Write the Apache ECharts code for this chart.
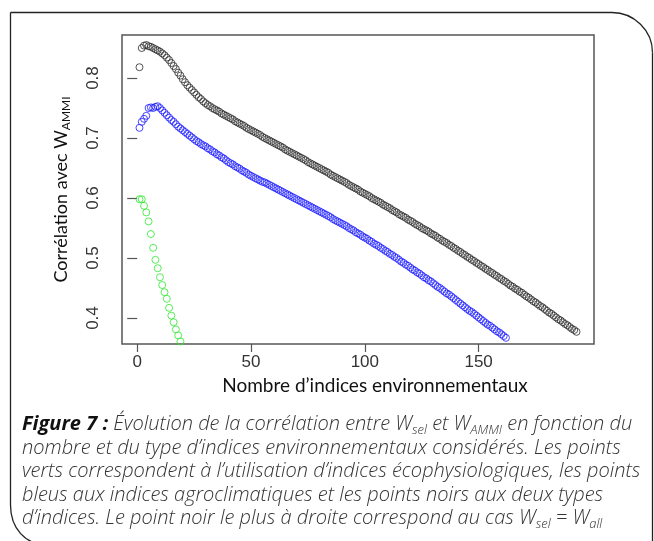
<!DOCTYPE html>
<html><head><meta charset="utf-8">
<script src="https://cdn.jsdelivr.net/npm/echarts@6/dist/echarts.min.js"></script>
<style>html,body{margin:0;padding:0;background:#fff}#c{width:654px;height:541px}</style>
</head><body><div id="c"></div>
<script>
// Both index types (black), x = 1..193
const blackVals = [
0.818,0.850,0.854,0.855,0.853,0.852,0.850,0.848,0.846,0.844,
0.841,0.838,0.834,0.830,0.825,0.820,0.815,0.809,0.804,0.798,
0.793,0.788,0.784,0.780,0.776,0.772,0.768,0.765,0.761,0.758,
0.755,0.753,0.750,0.748,0.746,0.744,0.741,0.739,0.737,0.735,
0.733,0.731,0.728,0.726,0.724,0.722,0.720,0.717,0.715,0.713,
0.711,0.709,0.707,0.705,0.702,0.700,0.698,0.696,0.694,0.692,
0.690,0.688,0.686,0.684,0.681,0.679,0.677,0.675,0.673,0.671,
0.669,0.667,0.665,0.663,0.660,0.658,0.656,0.654,0.652,0.650,
0.648,0.646,0.644,0.642,0.639,0.637,0.635,0.633,0.631,0.629,
0.627,0.625,0.622,0.620,0.618,0.616,0.614,0.611,0.609,0.607,
0.605,0.603,0.600,0.598,0.596,0.594,0.592,0.589,0.587,0.585,
0.583,0.580,0.578,0.576,0.573,0.571,0.569,0.567,0.564,0.562,
0.560,0.557,0.555,0.553,0.550,0.548,0.546,0.544,0.541,0.539,
0.537,0.534,0.532,0.529,0.527,0.525,0.522,0.520,0.517,0.515,
0.512,0.510,0.507,0.505,0.502,0.500,0.497,0.495,0.492,0.490,
0.487,0.485,0.482,0.480,0.477,0.475,0.472,0.470,0.467,0.465,
0.462,0.460,0.457,0.454,0.452,0.449,0.447,0.444,0.442,0.439,
0.436,0.434,0.431,0.428,0.426,0.423,0.420,0.418,0.415,0.412,
0.409,0.407,0.404,0.401,0.398,0.396,0.393,0.390,0.388,0.385,
0.382,0.380,0.377
];
// Agroclimatic indices (blue), x = 1..162
const blueVals = [
0.717,0.727,0.732,0.737,0.750,0.751,0.750,0.752,0.753,0.750,
0.746,0.742,0.738,0.734,0.730,0.727,0.723,0.719,0.716,0.713,
0.710,0.707,0.704,0.701,0.698,0.695,0.693,0.690,0.688,0.686,
0.683,0.681,0.678,0.676,0.673,0.671,0.668,0.666,0.663,0.660,
0.658,0.656,0.653,0.651,0.649,0.646,0.644,0.642,0.639,0.637,
0.635,0.633,0.631,0.629,0.627,0.626,0.624,0.622,0.620,0.618,
0.616,0.614,0.612,0.610,0.608,0.606,0.604,0.602,0.600,0.598,
0.596,0.594,0.592,0.590,0.588,0.586,0.584,0.582,0.580,0.578,
0.576,0.574,0.572,0.570,0.568,0.565,0.563,0.561,0.559,0.557,
0.555,0.553,0.550,0.548,0.546,0.543,0.541,0.539,0.536,0.534,
0.532,0.529,0.527,0.524,0.522,0.520,0.517,0.515,0.512,0.510,
0.507,0.505,0.502,0.500,0.497,0.494,0.492,0.489,0.487,0.484,
0.481,0.479,0.476,0.474,0.471,0.468,0.466,0.463,0.461,0.458,
0.455,0.452,0.450,0.447,0.444,0.441,0.439,0.436,0.433,0.430,
0.427,0.424,0.421,0.418,0.415,0.412,0.410,0.407,0.404,0.401,
0.398,0.395,0.392,0.389,0.387,0.384,0.381,0.378,0.376,0.373,
0.370,0.367
];
// Ecophysiological indices (green), visible points x = 1..20
const greenVals = [
0.598,0.598,0.587,0.576,0.561,0.540,0.517,0.497,0.483,0.468,
0.455,0.443,0.432,0.417,0.404,0.393,0.381,0.371,0.361,0.352
];
const xTicks = [0, 50, 100, 150];
const yTicks = [0.4, 0.5, 0.6, 0.7, 0.8];
const xName = 'Nombre d’indices environnementaux';
const yName = 'Corrélation avec W';
const ySub = 'AMMI';
const captionLines = [
  '{b|Figure 7 :} Évolution de la corrélation entre W{s|sel} et W{s|AMMI} en fonction du',
  'nombre et du type d’indices environnementaux considérés. Les points',
  'verts correspondent à l’utilisation d’indices écophysiologiques, les points',
  'bleus aux indices agroclimatiques et les points noirs aux deux types',
  'd’indices. Le point noir le plus à droite correspond au cas W{s|sel} = W{s|all}'
];

const toPts = arr => arr.map((v, i) => [i + 1, v]);
const capFont = '"Open Sans", "Noto Sans", sans-serif';
const axFont = 'Lato, "Open Sans", sans-serif';
const tickFont = '"Liberation Sans", Arial, sans-serif';

const chart = echarts.init(document.getElementById('c'), null, {renderer: 'canvas'});
const mk = (name, vals, col) => ({
  type: 'scatter', name, data: toPts(vals), symbol: 'circle', symbolSize: 7,
  itemStyle: {color: 'rgba(0,0,0,0)', borderColor: col, borderWidth: 1},
  silent: true, clip: true, emphasis: {disabled: true}
});
const frameStyle = {fill: 'none', stroke: '#222', lineWidth: 1.3};
chart.setOption({
  animation: false,
  backgroundColor: '#fff',
  grid: {left: 122, right: 60, top: 35, bottom: 197, show: true, borderColor: '#555', borderWidth: 1.5},
  xAxis: {
    type: 'value', min: -6.68, max: 200.68,
    axisLine: {show: false}, splitLine: {show: false},
    axisTick: {show: true, length: 8, customValues: xTicks, lineStyle: {color: '#555', width: 1.2}},
    axisLabel: {customValues: xTicks, margin: 10, fontFamily: tickFont, fontSize: 17, color: '#333'},
    name: xName, nameLocation: 'middle', nameGap: 26,
    nameTextStyle: {fontFamily: axFont, fontSize: 19, color: '#111', padding: [0, 0, 0, 34]}
  },
  yAxis: {
    type: 'value', min: 0.3567, max: 0.8717,
    axisLine: {show: false}, splitLine: {show: false},
    axisTick: {show: true, length: 10, customValues: yTicks, lineStyle: {color: '#555', width: 1.2}},
    axisLabel: {customValues: yTicks, rotate: 90, margin: 20, fontFamily: tickFont, fontSize: 17, color: '#333',
      formatter: v => Number(v).toFixed(1)},
    name: yName + '{s|' + ySub + '}', nameLocation: 'middle', nameGap: 50, nameRotate: 90,
    nameTextStyle: {fontFamily: axFont, fontSize: 18, color: '#111', lineHeight: 22,
      rich: {s: {fontFamily: axFont, fontSize: 12, color: '#111', lineHeight: 12, verticalAlign: 'bottom'}}}
  },
  series: [mk('both', blackVals, '#2a2a2a'), mk('agro', blueVals, '#1c1cff'), mk('eco', greenVals, '#2ee82e')],
  graphic: [
    {type: 'line', silent: true, shape: {x1: 10.5, y1: 12.5, x2: 612, y2: 12.5}, style: frameStyle},
    {type: 'bezierCurve', silent: true, shape: {x1: 612, y1: 12.5, cpx1: 634, cpy1: 12.5, cpx2: 652.5, cpy2: 30.5, x2: 652.5, y2: 52.5}, style: frameStyle},
    {type: 'line', silent: true, shape: {x1: 652.5, y1: 52.5, x2: 652.5, y2: 545}, style: frameStyle},
    {type: 'line', silent: true, shape: {x1: 10.5, y1: 12.5, x2: 10.5, y2: 505}, style: frameStyle},
    {type: 'bezierCurve', silent: true, shape: {x1: 10.5, y1: 505, cpx1: 10.5, cpy1: 528, cpx2: 25, cpy2: 545, x2: 48, y2: 545}, style: frameStyle},
    {type: 'text', left: 22, top: 413, silent: true,
      style: {text: captionLines.join('\n'), fontFamily: capFont, fontSize: 20, fontStyle: 'italic', fontWeight: 300,
        fill: '#333', lineHeight: 23.5,
        rich: {
          b: {fontFamily: capFont, fontSize: 20, fontStyle: 'italic', fontWeight: 'bold', fill: '#111', lineHeight: 23.5},
          s: {fontFamily: capFont, fontSize: 13, fontStyle: 'italic', fontWeight: 300, fill: '#333', lineHeight: 12, verticalAlign: 'bottom'}
        }}}
  ]
});
</script></body></html>
